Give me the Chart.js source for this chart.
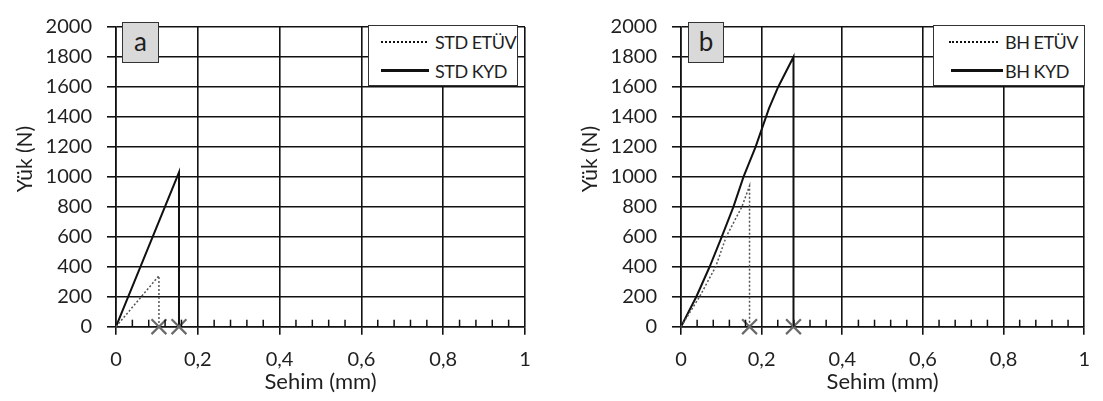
<!DOCTYPE html>
<html>
<head>
<meta charset="utf-8">
<script src="https://cdn.jsdelivr.net/npm/chart.js@4.4.1/dist/chart.umd.min.js"></script>
<style>
  body { margin: 0; background: #fff; }
  #wrap { position: relative; width: 1103px; height: 401px; font-family: Lato, "Noto Sans", sans-serif; color: #1f1f1f; }
  canvas { position: absolute; top: 0; }
  .tag { position: absolute; box-sizing: border-box; background: #d9d9d9; border: 1.5px solid #333;
         font-size: 26px; text-align: center; line-height: 36px; }
  .legend { position: absolute; box-sizing: border-box; background: #fff; border: 1.5px solid #333; }
  .legend .row { position: absolute; left: 0; right: 0; height: 22px; }
  .legend .smp { position: absolute; top: 10px; }
  .legend .dot { border-top: 2px dotted #111; }
  .legend .sol { border-top: 3px solid #111; top: 9px; }
  .legend .txt { position: absolute; font-size: 18px; line-height: 22px; letter-spacing: -0.5px; }
</style>
</head>
<body>
<div id="wrap">
  <canvas id="chartA" width="550" height="401" style="left:0"></canvas>
  <canvas id="chartB" width="538" height="401" style="left:565px"></canvas>

  <div class="tag" style="left:122px;top:22px;width:37px;height:41px">a</div>
  <div class="tag" style="left:688px;top:22px;width:36px;height:41px">b</div>

  <div class="legend" style="left:368px;top:25px;width:150px;height:61px">
    <div class="row" style="top:5px"><div class="smp dot" style="left:12px;width:46px"></div><div class="txt" style="left:66px">STD ETÜV</div></div>
    <div class="row" style="top:34px"><div class="smp sol" style="left:12px;width:48px"></div><div class="txt" style="left:66px">STD KYD</div></div>
  </div>
  <div class="legend" style="left:933px;top:25px;width:152px;height:61px">
    <div class="row" style="top:5px"><div class="smp dot" style="left:15px;width:49px"></div><div class="txt" style="left:71px">BH ETÜV</div></div>
    <div class="row" style="top:34px"><div class="smp sol" style="left:17px;width:52px"></div><div class="txt" style="left:71px">BH KYD</div></div>
  </div>
</div>

<script>
// Sehim (mm) / Yük (N) readings
const sehimStdEtuv = [0, 0.105, 0.105];
const yukStdEtuv   = [0, 340, 0];
const sehimStdKyd  = [0, 0.154, 0.154];
const yukStdKyd    = [0, 1030, 0];

const sehimBhEtuv = [0, 0.046, 0.086, 0.112, 0.151, 0.170, 0.170];
const yukBhEtuv   = [0, 200, 400, 600, 800, 940, 0];
const sehimBhKyd  = [0, 0.038, 0.071, 0.101, 0.130, 0.155, 0.185, 0.218, 0.241, 0.279, 0.279];
const yukBhKyd    = [0, 200, 400, 600, 800, 1000, 1200, 1455, 1600, 1800, 0];

const xTickLabels = ["0", "0,2", "0,4", "0,6", "0,8", "1"];
const minorStep = 0.04;
const yTitle = "Yük (N)";

const toPoints = (xs, ys) => xs.map((x, i) => ({ x: x, y: ys[i] }));

// small inward ticks along the x axis + the y axis title (sits a bit above centre in the original)
const extras = {
  id: "extras",
  afterDraw(chart) {
    const xs = chart.scales.x, bottom = chart.chartArea.bottom;
    const ctx = chart.ctx;
    ctx.save();
    ctx.strokeStyle = "#111";
    ctx.lineWidth = 1.5;
    for (let i = 1; i * minorStep < 1; i++) {
      if (i % 5 === 0) continue;
      const px = xs.getPixelForValue(i * minorStep);
      ctx.beginPath();
      ctx.moveTo(px, bottom);
      ctx.lineTo(px, bottom - 7);
      ctx.stroke();
    }
    ctx.translate(chart.chartArea.left - 91, 159);
    ctx.rotate(-Math.PI / 2);
    ctx.font = "21px Lato";
    ctx.fillStyle = "#1f1f1f";
    ctx.textAlign = "center";
    ctx.textBaseline = "middle";
    ctx.fillText(yTitle, 0, 0);
    ctx.restore();
  }
};

function etuvSet(label, data) {
  return {
    label: label,
    data: data,
    showLine: true,
    clip: false,
    borderColor: "#555",
    borderWidth: 1.5,
    borderDash: [2, 2],
    pointStyle: "crossRot",
    pointRadius: data.map((p, i) => i === data.length - 1 ? 10.5 : 0),
    pointBorderColor: "#6a6a6a",
    pointBorderWidth: 2.2
  };
}
function kydSet(label, data) {
  return {
    label: label,
    data: data,
    showLine: true,
    clip: false,
    borderColor: "#111",
    borderWidth: 2,
    pointStyle: "crossRot",
    pointRadius: data.map((p, i) => i === data.length - 1 ? 10.5 : 0),
    pointBorderColor: "#6a6a6a",
    pointBorderWidth: 2.2
  };
}

function makeChart(id, datasets, padRight) {
  const font = { family: "Lato", size: 20 };
  const titleFont = { family: "Lato", size: 22 };
  new Chart(document.getElementById(id), {
    type: "scatter",
    data: { datasets: datasets },
    plugins: [extras],
    options: {
      responsive: false,
      animation: false,
      layout: { padding: { left: 0, right: padRight, top: 15, bottom: 0 } },
      plugins: { legend: { display: false }, tooltip: { enabled: false } },
      scales: {
        x: {
          type: "linear",
          min: 0, max: 1,
          afterFit: s => { s.height = 74.3; },
          ticks: { stepSize: 0.2, color: "#1f1f1f", font: font, padding: 13, maxRotation: 0,
                   callback: (v, i) => xTickLabels[i] },
          grid: { color: "#111", lineWidth: 1.6, tickLength: 8, tickColor: "#111" },
          border: { color: "#111", width: 1.6 },
          title: { display: true, text: "Sehim (mm)", color: "#1f1f1f", font: titleFont, padding: { top: 0, bottom: 6 } }
        },
        y: {
          min: 0, max: 2000,
          afterFit: s => { s.width = 116; },
          ticks: { stepSize: 200, color: "#1f1f1f", font: font, padding: 15,
                   callback: v => String(v) },
          grid: { color: "#111", lineWidth: 1.6, tickLength: 9, tickColor: "#111" },
          border: { color: "#111", width: 1.6 }
        }
      }
    }
  });
}

makeChart("chartA", [
  etuvSet("STD ETÜV", toPoints(sehimStdEtuv, yukStdEtuv)),
  kydSet("STD KYD", toPoints(sehimStdKyd, yukStdKyd))
], 25);

makeChart("chartB", [
  etuvSet("BH ETÜV", toPoints(sehimBhEtuv, yukBhEtuv)),
  kydSet("BH KYD", toPoints(sehimBhKyd, yukBhKyd))
], 12.3);
</script>
</body>
</html>
